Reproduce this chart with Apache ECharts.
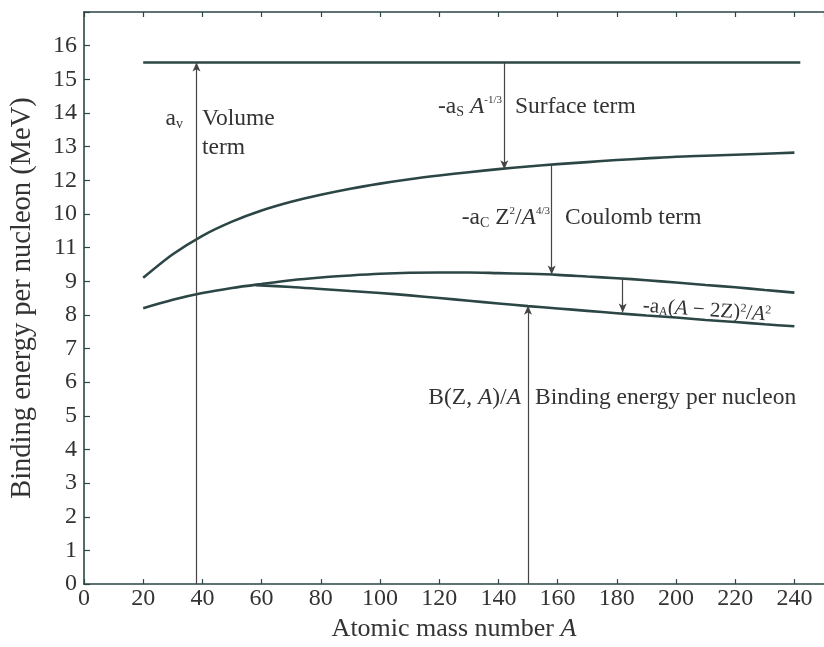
<!DOCTYPE html>
<html><head><meta charset="utf-8">
<script src="https://cdn.jsdelivr.net/npm/echarts@6/dist/echarts.min.js"></script>
<style>html,body{margin:0;padding:0;background:#fff}#c{width:824px;height:647px}</style>
</head><body><div id="c"></div>
<script>
// ---- data ----
const xTickLabels = ['0','20','40','60','80','100','120','140','160','180','200','220','240'];
// note: the reference labels the ticks at 10 and 11 in swapped order
const yTickLabels = ['0','1','2','3','4','5','6','7','8','9','11','10','12','13','14','15','16'];

const volumeA = [20, 242];
const volumeE = [15.5, 15.5];

const surfaceA = [20,30,40,50,60,70,80,90,100,110,120,130,140,150,160,170,180,190,200,210,220,230,240];
const surfaceE = [9.1,9.8,10.35,10.77,11.1,11.36,11.57,11.75,11.9,12.03,12.14,12.24,12.33,12.41,12.48,12.54,12.6,12.65,12.7,12.73,12.76,12.79,12.82];

const coulombA = [20,30,40,50,60,70,80,90,100,110,120,130,140,150,160,170,180,190,200,210,220,230,240];
const coulombE = [8.2,8.45,8.65,8.8,8.92,9.03,9.11,9.17,9.22,9.25,9.26,9.26,9.24,9.22,9.19,9.14,9.09,9.03,8.96,8.89,8.82,8.74,8.66];

const bindingA = [58,70,80,90,100,110,120,130,140,150,160,170,180,190,200,210,220,230,240];
const bindingE = [8.88,8.83,8.77,8.71,8.65,8.58,8.5,8.42,8.34,8.26,8.19,8.12,8.05,7.98,7.92,7.85,7.79,7.72,7.66];

const arrowA    = [38, 142, 158, 182, 150];
const arrowFrom = [0, 15.5, 12.45, 9.07, 0];
const arrowTo   = [15.5, 12.33, 9.2, 8.07, 8.27];

// ---- chart ----
const FONT = 'Liberation Serif, Times New Roman, serif';
const INK = '#333';
const LINE = '#2c4646';
const pairs = (xs, ys) => xs.map((x, i) => [x, ys[i]]);

const chart = echarts.init(document.getElementById('c'), null, {renderer: 'canvas'});

const curve = (name, xs, ys) => ({
  name, type: 'line', data: pairs(xs, ys), smooth: 0.3, showSymbol: false,
  lineStyle: {color: LINE, width: 2.6}, silent: true, z: 3
});

const arrowData = arrowA.map((a, i) => [{coord: [a, arrowFrom[i]]}, {coord: [a, arrowTo[i]]}]);

const option = {
  animation: false,
  backgroundColor: '#fff',
  grid: {left: 82, top: 12, width: 745, height: 573, show: false},
  xAxis: [{
    type: 'value', min: 0, max: 250, interval: 20, position: 'bottom',
    axisLine: {show: true, lineStyle: {color: LINE, width: 1.6}},
    axisTick: {show: true, inside: true, length: 5, lineStyle: {color: LINE, width: 1.2}},
    axisLabel: {formatter: v => xTickLabels[v / 20] ?? '', fontFamily: FONT, fontSize: 24, color: INK, margin: 3, showMaxLabel: false},
    splitLine: {show: false},
    name: 'Atomic mass number {i|A}', nameLocation: 'middle', nameGap: 28,
    nameTextStyle: {fontFamily: FONT, fontSize: 26, color: INK, rich: {i: {fontStyle: 'italic', fontFamily: FONT, fontSize: 26, color: INK}}}
  }, {
    type: 'value', min: 0, max: 250, interval: 20, position: 'top',
    axisLine: {show: true, lineStyle: {color: LINE, width: 1.6}},
    axisTick: {show: true, inside: true, length: 5, lineStyle: {color: LINE, width: 1.2}},
    axisLabel: {show: false}, splitLine: {show: false}
  }],
  yAxis: [{
    type: 'value', min: 0, max: 17, interval: 1,
    axisLine: {show: true, lineStyle: {color: LINE, width: 1.6}},
    axisTick: {show: true, inside: true, length: 6, lineStyle: {color: LINE, width: 1.2}},
    axisLabel: {formatter: v => yTickLabels[v] ?? '', fontFamily: FONT, fontSize: 24, color: INK, margin: 7},
    splitLine: {show: false},
    name: 'Binding energy per nucleon (MeV)', nameLocation: 'middle', nameGap: 47,
    nameTextStyle: {fontFamily: FONT, fontSize: 28.5, color: INK}
  }],
  series: [
    curve('volume', volumeA, volumeE),
    curve('surface', surfaceA, surfaceE),
    curve('coulomb', coulombA, coulombE),
    curve('binding', bindingA, bindingE),
    {
      type: 'line', data: [], silent: true, z: 2,
      markLine: {
        silent: true, symbol: ['none', 'arrow'], symbolSize: [6, 9], precision: 3,
        label: {show: false}, emphasis: {disabled: true},
        lineStyle: {color: '#444', width: 1.2, type: 'solid'},
        data: arrowData
      }
    }
  ]
};
chart.setOption(option);

// ---- annotations (real text) ----
const base = {font: '23.5px ' + FONT, fill: INK};
const rich = {
  n: {fontFamily: FONT, fontSize: 23.5, fill: INK, color: INK},
  i: {fontFamily: FONT, fontSize: 23.5, fontStyle: 'italic', fill: INK, color: INK},
  sub: {fontFamily: FONT, fontSize: 14, fill: INK, color: INK, verticalAlign: 'bottom'},
  sup: {fontFamily: FONT, fontSize: 11, fill: INK, color: INK, verticalAlign: 'top'},
  s: {fontFamily: FONT, fontSize: 21, fill: INK, color: INK},
  si: {fontFamily: FONT, fontSize: 21, fontStyle: 'italic', fill: INK, color: INK},
  ssub: {fontFamily: FONT, fontSize: 12, fill: INK, color: INK, verticalAlign: 'bottom'},
  ssup: {fontFamily: FONT, fontSize: 12, fill: INK, color: INK, verticalAlign: 'top'}
};
const txt = (x, y, text, align, extra) => Object.assign({
  type: 'text', x, y, silent: true, z: 10,
  style: Object.assign({text, rich, align: align || 'left', verticalAlign: 'middle'}, base)
}, extra || {});

chart.setOption({
  graphic: [
    txt(183, 119, '{n|a}{sub|v}', 'right'),
    txt(202, 119, 'Volume'),
    txt(202, 148, 'term'),
    txt(502, 107, '{n|-a}{sub|S} {i|A}{sup|-1/3}', 'right'),
    txt(515, 107, 'Surface term'),
    txt(550, 218, '{n|-a}{sub|C} {n|Z}{sup|2}{n|/}{i|A}{sup|4/3}', 'right'),
    txt(565, 218, 'Coulomb term'),
    txt(643, 306, '{s|-a}{ssub|A}{s|(}{si|A}{s| − 2Z)}{ssup|2}{s|/}{si|A}{ssup|2}', 'left', {rotation: -0.07}),
    txt(521, 398, '{n|B(Z, }{i|A}{n|)/}{i|A}', 'right'),
    txt(535, 398, 'Binding energy per nucleon')
  ]
});
</script>
</body></html>
